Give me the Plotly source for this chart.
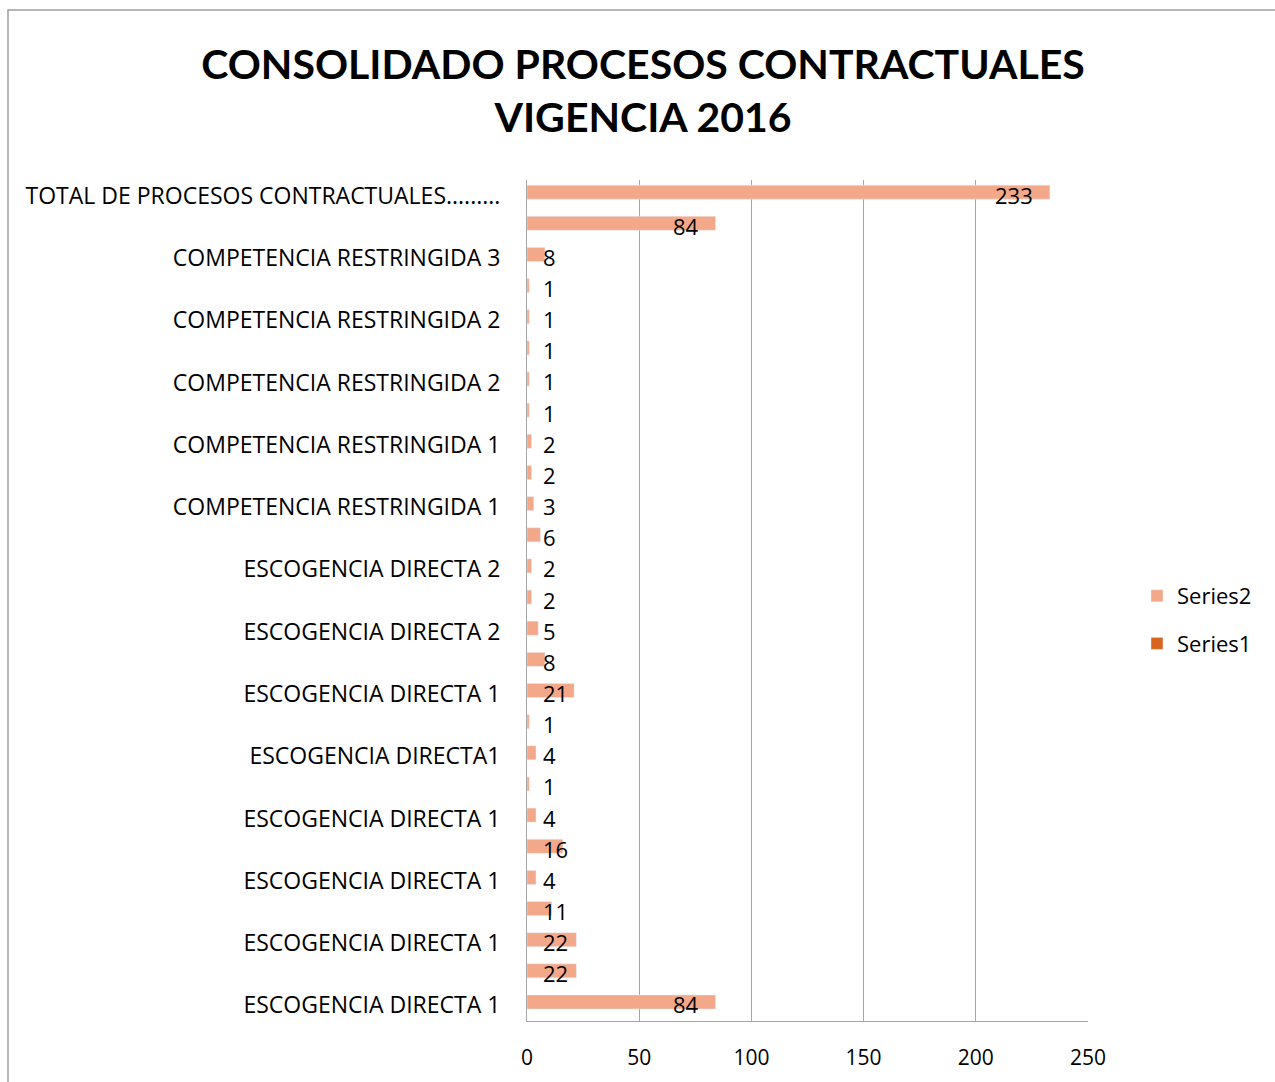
import plotly.graph_objects as go

# Category labels from bottom to top; only every other category carries a visible label
categories = [
    "ESCOGENCIA DIRECTA 1", "", "ESCOGENCIA DIRECTA 1", "", "ESCOGENCIA DIRECTA 1", "",
    "ESCOGENCIA DIRECTA 1", "", "ESCOGENCIA DIRECTA1", "", "ESCOGENCIA DIRECTA 1", "",
    "ESCOGENCIA DIRECTA 2", "", "ESCOGENCIA DIRECTA 2", "", "COMPETENCIA RESTRINGIDA 1", "",
    "COMPETENCIA RESTRINGIDA 1", "", "COMPETENCIA RESTRINGIDA 2", "", "COMPETENCIA RESTRINGIDA 2", "",
    "COMPETENCIA RESTRINGIDA 3", "", "TOTAL DE PROCESOS CONTRACTUALES.........",
]
series2 = [84, 22, 22, 11, 4, 16, 4, 1, 4, 1, 21, 8, 5, 2, 2, 6, 3, 2, 2, 1, 1, 1, 1, 1, 8, 84, 233]
series1 = [None] * len(series2)

x_ticks = [0, 50, 100, 150, 200, 250]

FONT = "Lato"
TICK_FONT = "Open Sans"
positions = list(range(len(series2)))

fig = go.Figure()
fig.add_trace(go.Bar(
    y=positions, x=series2, orientation="h", name="Series2",
    marker=dict(color="#F3A889"), width=0.45, offset=-0.115, legendgroup="s2",
))
fig.add_trace(go.Bar(
    y=positions, x=series1, orientation="h", name="Series1",
    marker=dict(color="#D8651E"), legendgroup="s1",
))

# value labels near the bar end (inside for long bars, next to the axis for short ones)
for pos, val in zip(positions, series2):
    if val > 50:
        ann = dict(x=val, xanchor="right", xshift=-15)
    else:
        ann = dict(x=0, xanchor="left", xshift=14)
    fig.add_annotation(y=pos, text=str(val), showarrow=False, yshift=1,
                       font=dict(family=TICK_FONT, size=22, color="#000000"), **ann)

tickvals = [p for p, c in zip(positions, categories) if c]
ticktext = [c for c in categories if c]

fig.update_layout(
    width=1275, height=1082,
    margin=dict(l=527, r=187, t=180, b=61),
    paper_bgcolor="white", plot_bgcolor="white",
    barmode="overlay",
    title=dict(
        text="<b>CONSOLIDADO PROCESOS CONTRACTUALES<br>VIGENCIA 2016</b>",
        x=643 / 1275, xref="container", xanchor="center",
        y=1 - 79 / 1082, yref="container", yanchor="middle",
        font=dict(family=FONT, size=41, color="#000000"),
    ),
    font=dict(family=TICK_FONT, size=23, color="#000000"),
    legend=dict(
        x=(1137 - 527) / 561, xanchor="left", y=(1021 - 620) / 841, yanchor="middle",
        traceorder="grouped", tracegroupgap=16,
        font=dict(family=TICK_FONT, size=22, color="#000000"),
        itemwidth=30, borderwidth=0,
    ),
    xaxis=dict(
        range=[0, 250], tickvals=x_ticks, showgrid=True, gridcolor="#A6A6A6", gridwidth=1,
        showline=True, linecolor="#A6A6A6", zeroline=False,
        ticks="", ticklabelstandoff=18, automargin=False,
        tickfont=dict(family=TICK_FONT, size=21),
    ),
    yaxis=dict(
        range=[-0.5, 26.5], tickvals=tickvals, ticktext=ticktext,
        showgrid=False, showline=True, linecolor="#A6A6A6", zeroline=False,
        ticks="", ticklabelstandoff=21, automargin=False,
        tickfont=dict(family=TICK_FONT, size=23),
    ),
)

# chart frame
fig.add_shape(type="rect", xref="paper", yref="paper",
              x0=(8 - 527) / 561, x1=(1290 - 527) / 561,
              y0=(1021 - 1100) / 841, y1=(1021 - 10) / 841,
              line=dict(color="#A0A0A0", width=1.5), fillcolor="rgba(0,0,0,0)", layer="below")

fig.write_html("out.html")
